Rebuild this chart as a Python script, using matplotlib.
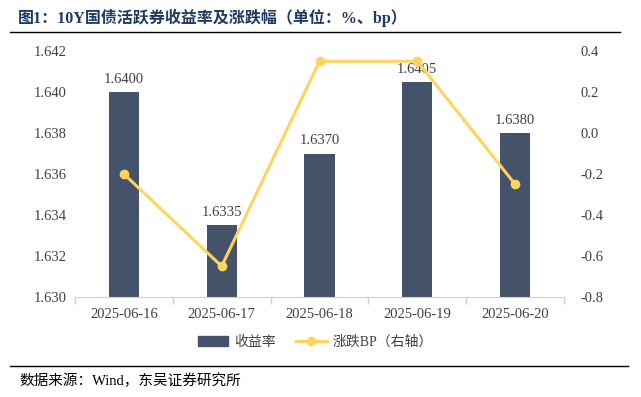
import numpy as np
import matplotlib.pyplot as plt
from matplotlib.lines import Line2D
from matplotlib.patches import Patch

plt.rcParams['font.family'] = ['Liberation Serif', 'Noto Sans CJK SC', 'DejaVu Sans']

dates = ["2025-06-16", "2025-06-17", "2025-06-18", "2025-06-19", "2025-06-20"]
yields = [1.6400, 1.6335, 1.6370, 1.6405, 1.6380]
change_bp = [-0.2, -0.65, 0.35, 0.35, -0.25]

bar_color = "#44536A"
line_color = "#FFD45C"
text_color = "#404040"

fig = plt.figure(figsize=(6.41, 3.97), dpi=100)
W, H = 641, 397
ax = fig.add_axes([75 / W, (H - 297) / H, (564 - 75) / W, (297 - 51) / H])
x = np.arange(len(dates))
ax.bar(x, yields, width=0.31, color=bar_color, zorder=2)
ax.set_ylim(1.630, 1.642)
ax.set_yticks(np.arange(1.630, 1.6421, 0.002))
ax.set_yticklabels([f"{v:.3f}" for v in np.arange(1.630, 1.6421, 0.002)])
ax.set_xlim(-0.5, len(dates) - 0.5)
ax.set_xticks(x)
ax.set_xticklabels(dates)
ax.set_xticks(np.arange(-0.5, len(dates), 1.0), minor=True)
ax.tick_params(axis='x', which='major', length=0, pad=8, labelsize=10.5, colors=text_color)
ax.tick_params(axis='x', which='minor', length=5, color="#D0D0D0", width=1)
ax.tick_params(axis='y', length=0, pad=6, labelsize=10.5, colors=text_color)
for s in ["top", "left", "right"]:
    ax.spines[s].set_visible(False)
ax.spines["bottom"].set_color("#D0D0D0")
for xi, v in zip(x, yields):
    ax.text(xi, v + 0.0003, f"{v:.4f}", ha="center", va="bottom", fontsize=10.5, color=text_color)

ax2 = ax.twinx()
ax2.plot(x, change_bp, color=line_color, lw=2.2, marker="o", ms=6, zorder=3)
ax2.set_ylim(-0.8, 0.4)
ax2.set_yticks(np.arange(-0.8, 0.41, 0.2))
ax2.set_yticklabels([f"{v:.1f}" if abs(v) > 1e-9 else "0.0" for v in np.arange(-0.8, 0.41, 0.2)])
ax2.tick_params(axis='y', length=0, pad=12, labelsize=10.5, colors=text_color)
for s in ["top", "left", "right", "bottom"]:
    ax2.spines[s].set_visible(False)

handles = [Patch(color=bar_color),
           Line2D([], [], color=line_color, lw=2.2, marker="o", ms=6)]
fig.legend(handles, ["收益率", "涨跌BP（右轴）"], loc="center", bbox_to_anchor=(315 / W, (H - 342) / H),
           ncol=2, frameon=False, fontsize=10, handlelength=2.2, handletextpad=0.4,
           columnspacing=1.5, labelcolor=text_color)

fig.text(18 / W, (H - 18) / H, "图1：10Y国债活跃券收益率及涨跌幅（单位：%、bp）", ha="left", va="center",
         fontsize=11.5, fontweight="bold", color="#1F3864")
fig.add_artist(Line2D([10 / W, 620 / W], [(H - 31.5) / H] * 2, color="black", lw=1))
fig.add_artist(Line2D([10 / W, 628 / W], [(H - 366) / H] * 2, color="black", lw=1))
fig.text(19 / W, (H - 381) / H, "数据来源：Wind，东吴证券研究所", ha="left", va="center",
         fontsize=10.5, color="black")

fig.savefig("out.png", dpi=100)
